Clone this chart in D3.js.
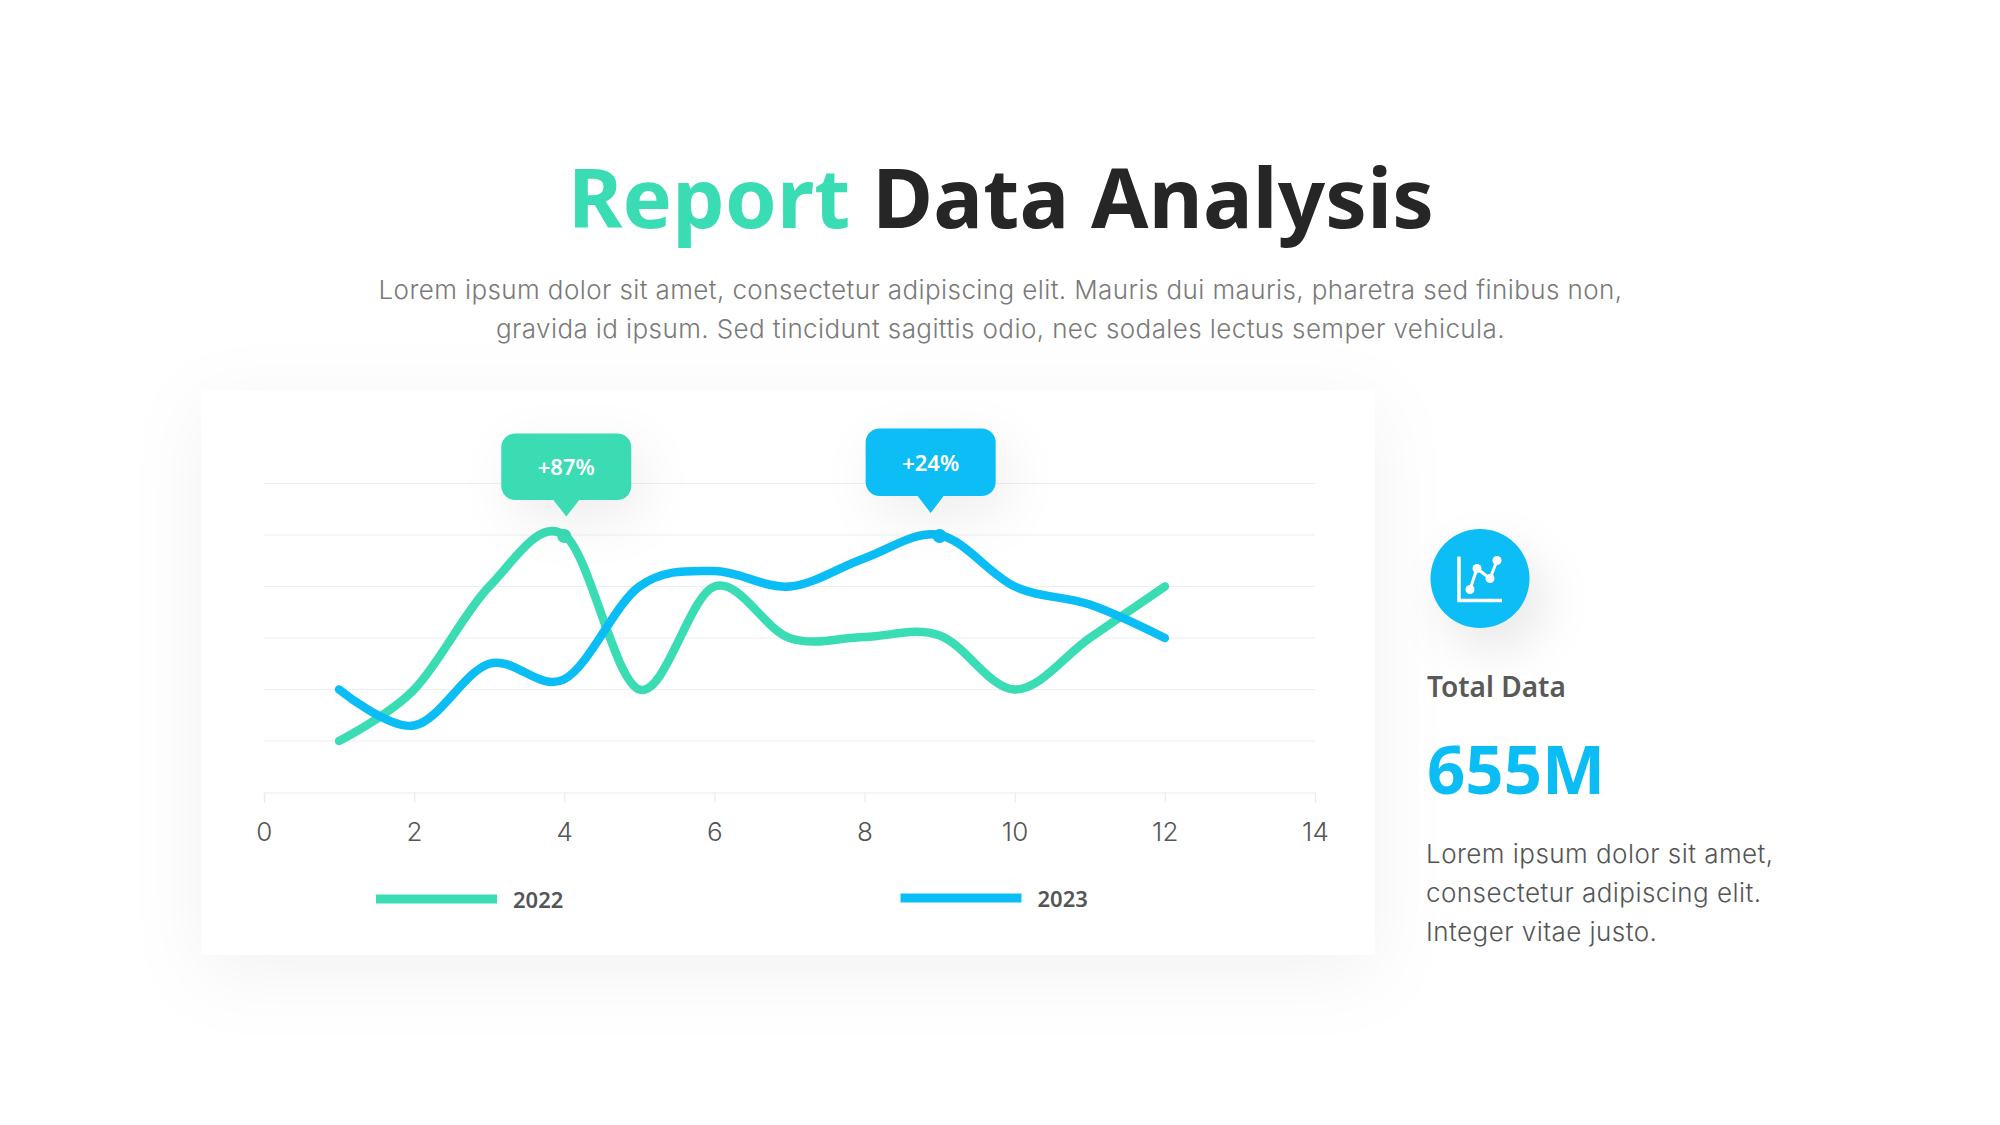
<!DOCTYPE html>
<html><head><meta charset="utf-8">
<script src="https://cdn.jsdelivr.net/npm/d3@7"></script>
<style>html,body{margin:0;padding:0;background:#fff}svg{display:block}</style></head>
<body><svg id="c" width="2000" height="1125"></svg>
<script>
const xValues=[1,2,3,4,5,6,7,8,9,10,11,12];
const values2022=[10,20,40,50,20,40,30,30.2,30.5,20,30,40];
const values2023=[20,13,25,22,40,43,40,45.5,50,40,36.5,30];
const xTicks=[0,2,4,6,8,10,12,14];
const yTicks=[0,10,20,30,40,50,60];
const seriesNames=["2022","2023"];
const calloutLabels=["+87%","+24%"];
const green="#3adcb4",blue="#0abdf5";
const subtitleLines=["Lorem ipsum dolor sit amet, consectetur adipiscing elit. Mauris dui mauris, pharetra sed finibus non,","gravida id ipsum. Sed tincidunt sagittis odio, nec sodales lectus semper vehicula."];
const bodyLines=["Lorem ipsum dolor sit amet,","consectetur adipiscing elit.","Integer vitae justo."];
const bodyFont='"Inter","Open Sans",sans-serif', headFont='"Noto Sans","Open Sans",sans-serif';

const svg=d3.select("#c");
const defs=svg.append("defs");
function shadow(id,dx,dy,blur,op,m){const f=defs.append("filter").attr("id",id).attr("x",-m+"%").attr("y",-m+"%").attr("width",(100+2*m)+"%").attr("height",(100+2*m)+"%");
 f.append("feDropShadow").attr("dx",dx).attr("dy",dy).attr("stdDeviation",blur).attr("flood-color","#000").attr("flood-opacity",op);}
shadow("card",0,18,38,.05,40);shadow("bub",10,16,26,.07,100);shadow("ic",14,22,24,.09,120);

// title
const t=svg.append("text").attr("x",1001).attr("y",228).attr("text-anchor","middle").attr("font-family",headFont).attr("font-weight",700).attr("font-size",83).attr("letter-spacing",.2);
t.append("tspan").attr("fill",green).text("Report");
t.append("tspan").attr("fill","#262626").text(" Data Analysis");
svg.selectAll(".sub").data(subtitleLines).join("text").attr("class","sub").attr("x",1000.5).attr("y",(d,i)=>299+i*39).attr("text-anchor","middle")
 .attr("font-family",bodyFont).attr("font-weight",300).attr("font-size",26).attr("letter-spacing",.4).attr("fill","#7a7a7a").text(d=>d);

// card
svg.append("rect").attr("x",201.5).attr("y",390).attr("width",1173.5).attr("height",565).attr("fill","#fff").attr("filter","url(#card)");

const x=d3.scaleLinear().domain([0,14]).range([264,1315]);
const y=d3.scaleLinear().domain([0,60]).range([792.5,483.5]);
const g=svg.append("g");
g.selectAll(".grid").data(yTicks.slice(1)).join("line").attr("class","grid").attr("x1",x(0)).attr("x2",x(14)).attr("y1",d=>y(d)).attr("y2",d=>y(d)).attr("stroke","#eeeeee").attr("stroke-width",1.2);

const ax=g.append("g").attr("transform",`translate(0,${y(0)})`).call(d3.axisBottom(x).tickValues(xTicks).tickSize(10).tickPadding(20).tickFormat(d3.format("d")));
ax.selectAll("path,line").attr("stroke","#ececec").attr("stroke-width",1.2);
ax.selectAll("text").attr("font-family",bodyFont).attr("font-weight",300).attr("font-size",26).attr("letter-spacing",.3).attr("fill","#555");

const line=d3.line().x((d,i)=>x(xValues[i])).y(d=>y(d)).curve(d3.curveCatmullRom.alpha(0));
const series=[{v:values2022,c:green},{v:values2023,c:blue}];
g.selectAll(".s").data(series).join("path").attr("class","s").attr("d",d=>line(d.v)).attr("fill","none").attr("stroke",d=>d.c).attr("stroke-width",8.5).attr("stroke-linecap","round").attr("stroke-linejoin","round");

// callouts
const callouts=[{i:3,v:values2022,c:green,l:calloutLabels[0],tipDx:2,tipY:516.5,top:433.5,h:66.5},{i:8,v:values2023,c:blue,l:calloutLabels[1],tipDx:-9,tipY:513,top:428.5,h:67.5}];
callouts.forEach(o=>{
 const px=x(xValues[o.i]),py=y(o.v[o.i]),cx=px+o.tipDx,w=130,hw=w/2,r=14,b=o.top+o.h;
 g.append("circle").attr("cx",px).attr("cy",py+1).attr("r",7).attr("fill",o.c);
 const p=d3.path();p.moveTo(cx-hw+r,o.top);p.lineTo(cx+hw-r,o.top);p.arcTo(cx+hw,o.top,cx+hw,o.top+r,r);p.lineTo(cx+hw,b-r);p.arcTo(cx+hw,b,cx+hw-r,b,r);
 p.lineTo(cx+13,b);p.lineTo(cx,o.tipY);p.lineTo(cx-13,b);p.lineTo(cx-hw+r,b);p.arcTo(cx-hw,b,cx-hw,b-r,r);p.lineTo(cx-hw,o.top+r);p.arcTo(cx-hw,o.top,cx-hw+r,o.top,r);p.closePath();
 g.append("path").attr("d",p.toString()).attr("fill",o.c).attr("filter","url(#bub)");
 g.append("text").attr("x",cx).attr("y",o.top+o.h/2+8.5).attr("text-anchor","middle").attr("font-family",headFont).attr("font-weight",600).attr("font-size",22).attr("fill","#fff").text(o.l);
});

// legend
const legend=[{n:seriesNames[0],c:green,x:376,y:899},{n:seriesNames[1],c:blue,x:900.5,y:898}];
legend.forEach(l=>{
 g.append("rect").attr("x",l.x).attr("y",l.y-4.5).attr("width",121).attr("height",9).attr("fill",l.c);
 g.append("text").attr("x",l.x+137).attr("y",l.y+9).attr("font-family",headFont).attr("font-weight",600).attr("font-size",22).attr("fill","#555").text(l.n);
});

// right panel
const cx=1480,cy=578.5;
svg.append("circle").attr("cx",cx).attr("cy",cy).attr("r",49.5).attr("fill",blue).attr("filter","url(#ic)");
const icon=svg.append("g").attr("transform",`translate(${cx},${cy})`);
const iconLine=d3.line();
icon.append("path").attr("d",iconLine([[-21,-22],[-21,22],[22,22]])).attr("fill","none").attr("stroke","#fff").attr("stroke-width",3.5);
const iconPts=[[-10,11],[-3,-10],[10,0],[17,-18]];
icon.append("path").attr("d",iconLine(iconPts)).attr("fill","none").attr("stroke","#fff").attr("stroke-width",3);
icon.selectAll("circle").data(iconPts).join("circle").attr("cx",d=>d[0]).attr("cy",d=>d[1]).attr("r",4.5).attr("fill","#fff");

svg.append("text").attr("x",1427).attr("y",697).attr("font-family",headFont).attr("font-weight",600).attr("font-size",28).attr("fill","#595959").text("Total Data");
svg.append("text").attr("x",1427).attr("y",794).attr("font-family",headFont).attr("font-weight",700).attr("font-size",67).attr("fill",blue).text("655M");
svg.selectAll(".body").data(bodyLines).join("text").attr("class","body").attr("x",1426).attr("y",(d,i)=>862.5+i*39).attr("font-family",bodyFont).attr("font-weight",300).attr("font-size",26).attr("letter-spacing",.45).attr("fill","#555").text(d=>d);
</script></body></html>
